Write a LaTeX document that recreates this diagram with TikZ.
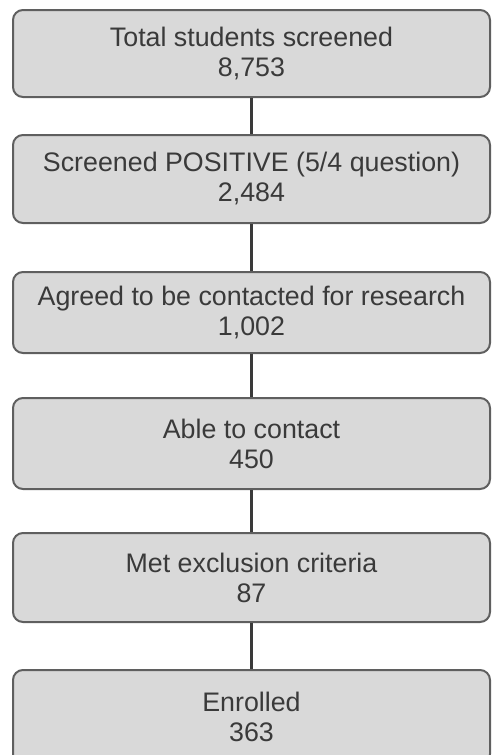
\documentclass[tikz,border=0pt]{standalone}
\usepackage{fontspec}
\setmainfont{Liberation Sans}
\usetikzlibrary{positioning}
\definecolor{BoxFill}{RGB}{217, 217, 217}
\definecolor{BoxLine}{RGB}{95, 95, 95}
\definecolor{Ink}{RGB}{58, 58, 58}

\tikzset{
    stage/.style={draw=BoxLine, fill=BoxFill, line width=2pt, rounded corners=10pt,
        minimum width=477pt, inner sep=0pt, align=center, text=Ink,
        font=\fontsize{26.8}{30}\selectfont},
    link/.style={draw=Ink, line width=3pt}
}

\begin{document}
\begin{tikzpicture}[x=1pt, y=-1pt]
            \useasboundingbox (0,0) rectangle (491,755);

            % Screening stages
            \node[stage, minimum height=87pt] (total) at (251.5, 53.5) {Total students screened\\8,753};
            \node[stage, minimum height=88pt] (positive) at (251.5, 179) {Screened POSITIVE (5/4 question)\\2,484};
            \node[stage, minimum height=81pt] (agreed) at (251.5, 312.5) {Agreed to be contacted for research\\1,002};
            \node[stage, minimum height=91pt] (contact) at (251.5, 443.5) {Able to contact\\450};
            \node[stage, minimum height=89pt] (excluded) at (251.5, 577.5) {Met exclusion criteria\\87};
            \node[stage, minimum height=94pt] (enrolled) at (251.5, 717) {Enrolled\\363};

            % Connectors
            \draw[link] (total) -- (positive);
            \draw[link] (positive) -- (agreed);
            \draw[link] (agreed) -- (contact);
            \draw[link] (contact) -- (excluded);
            \draw[link] (excluded) -- (enrolled);
        \end{tikzpicture}
\end{document}
